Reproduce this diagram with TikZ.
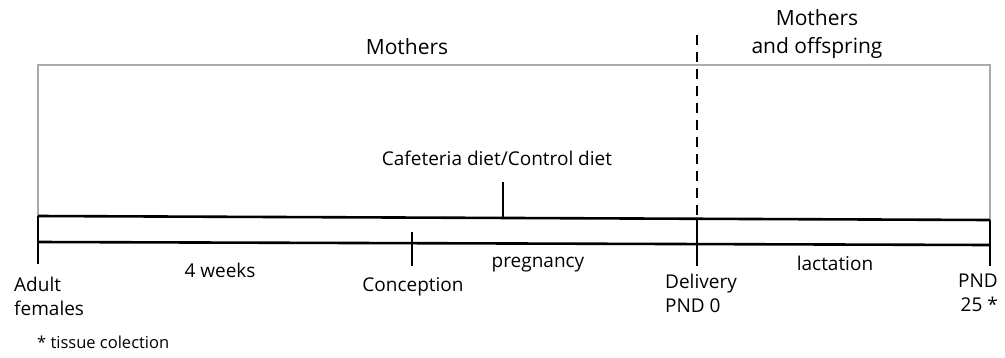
\documentclass[tikz,border=0pt]{standalone}
\usepackage{fontspec}
\setmainfont{Open Sans}
\begin{document}
\begin{tikzpicture}[x=1pt,y=-1pt,
  lbl/.style={inner sep=0pt,font=\fontsize{19}{24}\selectfont,align=center},
  head/.style={inner sep=0pt,font=\fontsize{21}{28}\selectfont,align=center},
  bar/.style={line width=2.6pt,black},
  grayline/.style={line width=2.2pt,color={rgb,255:red,170;green,170;blue,170}},
  tick/.style={line width=2.6pt,black}]
\useasboundingbox (0,0) rectangle (1005,357);
% gray bracket
\coordinate (gl) at (38,216);
\coordinate (gtl) at (38,65);
\coordinate (gtr) at (990,65);
\coordinate (gr) at (990,220);
\draw[grayline] (gl) -- (gtl) -- (gtr) -- (gr);
% bars
\coordinate (b1l) at (38,216);
\coordinate (b1r) at (990,220);
\coordinate (b2l) at (38,242);
\coordinate (b2r) at (990,245);
\draw[bar] (b1l) -- (b1r);
\draw[bar] (b2l) -- (b2r);
\coordinate (tl0) at (38,216); \coordinate (tl1) at (38,264);
\coordinate (tr0) at (990,220); \coordinate (tr1) at (990,266);
\draw[tick] (tl0) -- (tl1);
\draw[tick] (tr0) -- (tr1);
\coordinate (c0) at (412,232); \coordinate (c1) at (412,266);
\draw[tick] (c0) -- (c1);
\coordinate (d0) at (503,182); \coordinate (d1) at (503,218);
\draw[tick] (d0) -- (d1);
\coordinate (v0) at (697,218); \coordinate (v1) at (697,266);
\draw[tick] (v0) -- (v1);
\coordinate (dash0) at (697,35); \coordinate (dash1) at (697,218);
\draw[line width=2.8pt,dash pattern=on 10pt off 7pt] (dash0) -- (dash1);
% labels
\node[head] (mothers) at (407,47) {Mothers};
\node[head] (mo) at (817,34) {Mothers\\and offspring};
\node[lbl] (diet) at (497,158) {Cafeteria diet/Control diet};
\node[lbl] (weeks) at (220,270) {4 weeks};
\node[lbl] (conc) at (413,287) {Conception};
\node[lbl] (preg) at (538,265) {pregnancy};
\node[lbl,align=left,anchor=west] (deliv) at (665,293) {Delivery\\PND 0};
\node[lbl] (lact) at (835,263) {lactation};
\node[lbl,align=right,anchor=east] (pnd) at (998,293) {PND\\25 *};
\node[lbl,align=left,anchor=west] (adult) at (14,296) {Adult\\females};
\node[inner sep=0pt,font=\fontsize{16.5}{19}\selectfont,anchor=west] (tissue) at (37,342) {* tissue colection};
\end{tikzpicture}
\end{document}
